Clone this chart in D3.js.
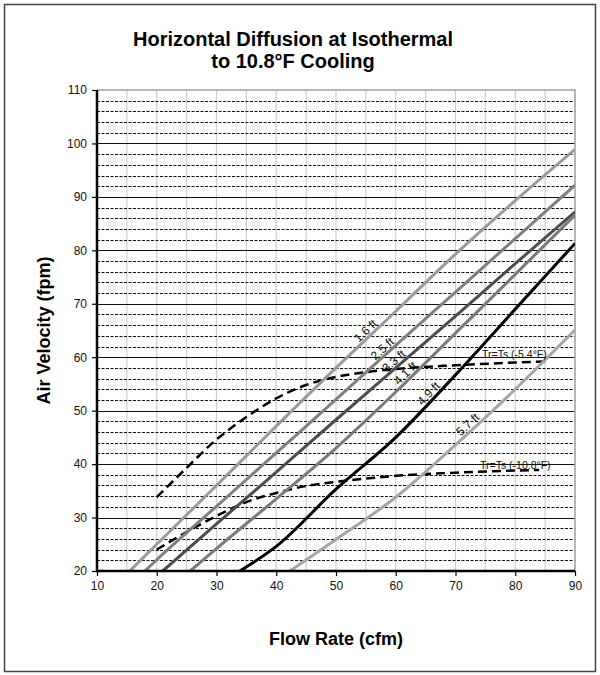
<!DOCTYPE html>
<html>
<head>
<meta charset="utf-8">
<script src="https://cdn.jsdelivr.net/npm/d3@7"></script>
<style>
  body { margin: 0; background: #fff; }
  svg { display: block; font-family: "Liberation Sans", Arial, sans-serif; }
</style>
</head>
<body>
<div id="chart"></div>
<script>
// valores (cfm -> fpm)
const flow16 = [15.5, 20, 30, 40, 50, 60, 70, 80, 90];
const vel16  = [20, 25, 36, 47.1, 58, 68.6, 79.3, 89.3, 98.9];
const flow25 = [18, 20, 30, 40, 50, 60, 70, 80, 90];
const vel25  = [20, 22.1, 32.1, 42.1, 52.1, 62.2, 72.2, 82.2, 92.2];
const flow33 = [21, 30, 40, 50, 60, 70, 80, 90];
const vel33  = [20, 28.8, 38.5, 48.3, 58, 67.7, 77.5, 87.2];
const flow41 = [25.6, 30, 40, 50, 60, 70, 80, 90];
const vel41  = [20, 24.2, 33.5, 43, 53.5, 64.5, 75.5, 86.6];
const flow49 = [33.9, 40, 50, 60, 70, 80, 90];
const vel49  = [20, 24.6, 35.3, 45, 56.7, 69, 81.3];
const flow57 = [42.3, 50, 60, 70, 80, 90];
const vel57  = [20, 25.9, 33.8, 43.6, 54, 65.1];

// curvas Tr=Ts (tracejadas)
const flowTr54  = [20, 25, 30, 35, 40, 45, 50, 55, 60, 70, 80, 85];
const velTr54   = [33.8, 39.3, 44.6, 48.8, 52.3, 54.8, 56.3, 57.2, 57.8, 58.5, 59, 59.2];
const flowTr108 = [20, 25, 30, 35, 40, 45, 50, 55, 60, 70, 80, 84];
const velTr108  = [24, 27.3, 30.3, 32.9, 34.6, 35.9, 36.7, 37.3, 37.8, 38.4, 38.8, 38.9];

const throwNames = ["1.6 ft", "2.5 ft", "3.3 ft", "4.1 ft", "4.9 ft", "5.7 ft"];
const throwLabelAt = [55.7, 58.5, 60.4, 62.4, 66.3, 72.8];
const trNames = ["Tr=Ts (-5.4°F)", "Tr=Ts (-10.8°F)"];

const xTicks = [10, 20, 30, 40, 50, 60, 70, 80, 90];
const yTicks = [20, 30, 40, 50, 60, 70, 80, 90, 100, 110];

const W = 600, H = 675;
const plotL = 97, plotR = 575, plotT = 90, plotB = 571;

const svg = d3.select("#chart").append("svg")
  .attr("width", W).attr("height", H);

// moldura externa
svg.append("rect")
  .attr("x", 4.5).attr("y", 4.5).attr("width", 591).attr("height", 667)
  .attr("fill", "#fff").attr("stroke", "#444").attr("stroke-width", 1.5);

const x = d3.scaleLinear().domain([10, 90]).range([plotL, plotR]);
const y = d3.scaleLinear().domain([20, 110]).range([plotB, plotT]);

// título
const title = svg.append("text")
  .attr("text-anchor", "middle").attr("font-size", "20px").attr("font-weight", "bold");
title.append("tspan").attr("x", 293).attr("y", 46).text("Horizontal Diffusion at Isothermal");
title.append("tspan").attr("x", 293).attr("y", 68).text("to 10.8°F Cooling");

// grade: verticais a cada 5
const g = svg.append("g");
g.selectAll(".vgrid").data(d3.range(15, 90, 5)).join("line")
  .attr("x1", d => x(d)).attr("x2", d => x(d))
  .attr("y1", plotT).attr("y2", plotB)
  .attr("stroke", "#d0d0d0").attr("stroke-width", 1.2);

// horizontais: menores tracejadas a cada 2, maiores a cada 10
const minorY = d3.range(22, 110, 2).filter(v => v % 10 !== 0);
g.selectAll(".hminor").data(minorY).join("line")
  .attr("x1", plotL).attr("x2", plotR)
  .attr("y1", d => Math.round(y(d)) + 0.5).attr("y2", d => Math.round(y(d)) + 0.5)
  .attr("stroke", "#111").attr("stroke-width", 1).attr("stroke-dasharray", "3,1.5");
g.selectAll(".hmajor").data(yTicks.filter(v => v > 20 && v < 110)).join("line")
  .attr("x1", plotL).attr("x2", plotR)
  .attr("y1", d => Math.round(y(d)) + 0.5).attr("y2", d => Math.round(y(d)) + 0.5)
  .attr("stroke", "#111").attr("stroke-width", 1.2);

// borda da área do gráfico (cinza)
g.append("path")
  .attr("d", `M${plotL},${plotT}H${plotR}V${plotB}`)
  .attr("fill", "none").attr("stroke", "#a0a0a0").attr("stroke-width", 1.5);

// clip
svg.append("clipPath").attr("id", "plot")
  .append("rect").attr("x", plotL).attr("y", plotT).attr("width", plotR - plotL).attr("height", plotB - plotT);

const line = d3.line().x(d => x(d[0])).y(d => y(d[1])).curve(d3.curveMonotoneX);
const zip = (a, b) => a.map((v, i) => [v, b[i]]);

const throwSeries = [
  { pts: zip(flow16, vel16), color: "#9a9a9a" },
  { pts: zip(flow25, vel25), color: "#7f7f7f" },
  { pts: zip(flow33, vel33), color: "#4d4d4d" },
  { pts: zip(flow41, vel41), color: "#7a7a7a" },
  { pts: zip(flow49, vel49), color: "#000000" },
  { pts: zip(flow57, vel57), color: "#a6a6a6" }
];

const plot = svg.append("g").attr("clip-path", "url(#plot)");

// Tr=Ts tracejadas
[zip(flowTr54, velTr54), zip(flowTr108, velTr108)].forEach(pts => {
  plot.append("path").attr("d", line(pts))
    .attr("fill", "none").attr("stroke", "#000").attr("stroke-width", 2.5)
    .attr("stroke-dasharray", "9,5");
});

plot.selectAll(".throw").data(throwSeries).join("path")
  .attr("d", d => line(d.pts))
  .attr("fill", "none")
  .attr("stroke", d => d.color)
  .attr("stroke-width", 3);

// rótulos ao longo das linhas
throwSeries.forEach((s, i) => {
  const interp = d3.scaleLinear().domain(s.pts.map(p => p[0])).range(s.pts.map(p => p[1]));
  const lx = throwLabelAt[i];
  const px = x(lx), py = y(interp(lx));
  const dx = x(lx + 2) - x(lx - 2), dy = y(interp(lx + 2)) - y(interp(lx - 2));
  const ang = Math.atan2(dy, dx) * 180 / Math.PI;
  svg.append("text")
    .attr("transform", `translate(${px},${py}) rotate(${ang})`)
    .attr("y", -2.5)
    .attr("text-anchor", "middle")
    .attr("font-size", "12px")
    .attr("fill", "#111")
    .text(throwNames[i]);
});

// rótulos Tr=Ts
svg.append("text").attr("x", 482).attr("y", 358).attr("font-size", "10.5px").attr("fill", "#111").text(trNames[0]);
svg.append("text").attr("x", 480).attr("y", 469).attr("font-size", "10.5px").attr("fill", "#111").text(trNames[1]);

// eixos
svg.append("line").attr("x1", plotL).attr("x2", plotL).attr("y1", plotT).attr("y2", plotB + 1)
  .attr("stroke", "#000").attr("stroke-width", 2.5);
svg.append("line").attr("x1", plotL - 1).attr("x2", plotR).attr("y1", plotB).attr("y2", plotB)
  .attr("stroke", "#000").attr("stroke-width", 2.5);

const yAxis = svg.append("g").attr("transform", `translate(${plotL},0)`)
  .call(d3.axisLeft(y).tickValues(yTicks).tickSize(5).tickPadding(5));
const xAxis = svg.append("g").attr("transform", `translate(0,${plotB})`)
  .call(d3.axisBottom(x).tickValues(xTicks).tickSize(5).tickPadding(5));
[yAxis, xAxis].forEach(a => {
  a.select(".domain").remove();
  a.selectAll(".tick line").attr("stroke", "#000").attr("stroke-width", 1.2);
  a.selectAll(".tick text").attr("font-size", "12px").attr("fill", "#111")
    .attr("font-family", "'Liberation Sans', Arial, sans-serif");
});

// títulos dos eixos
svg.append("text")
  .attr("transform", `translate(50,${(plotT + plotB) / 2}) rotate(-90)`)
  .attr("text-anchor", "middle").attr("font-size", "18px").attr("font-weight", "bold")
  .text("Air Velocity (fpm)");
svg.append("text")
  .attr("x", (plotL + plotR) / 2).attr("y", 645)
  .attr("text-anchor", "middle").attr("font-size", "18px").attr("font-weight", "bold")
  .text("Flow Rate (cfm)");
</script>
</body>
</html>
